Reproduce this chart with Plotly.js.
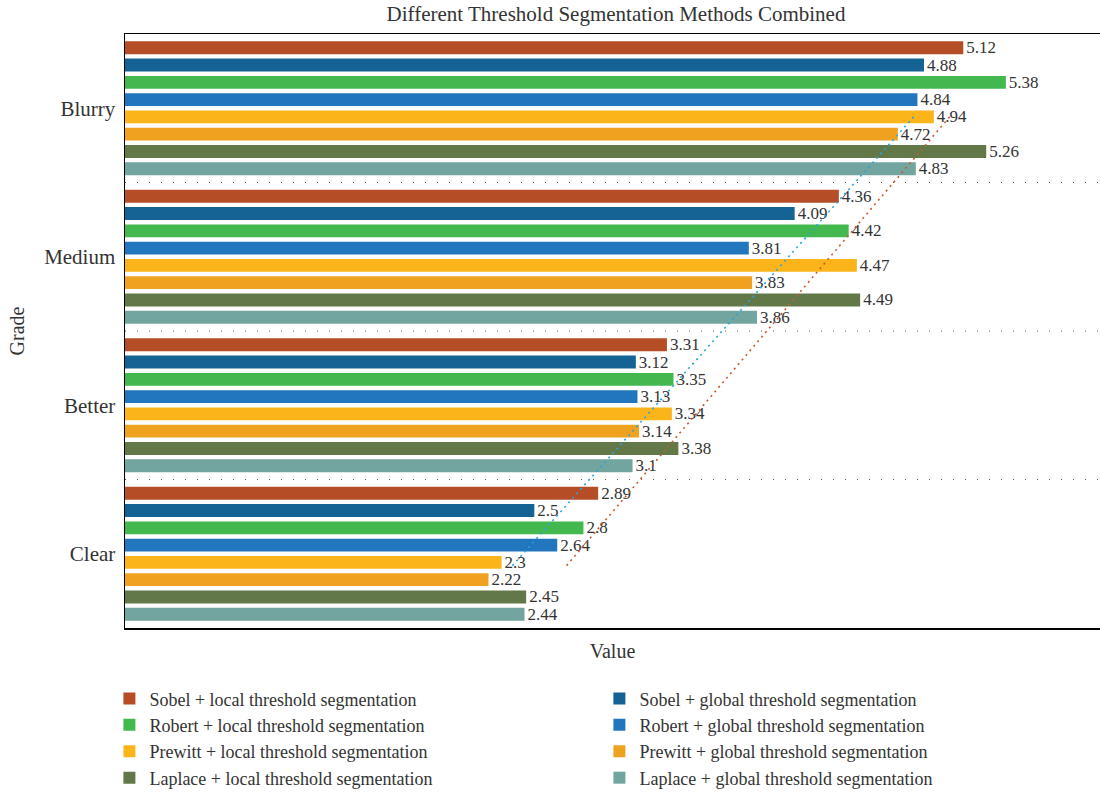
<!DOCTYPE html>
<html>
<head>
<meta charset="utf-8">
<script src="https://cdn.plot.ly/plotly-3.0.1.min.js"></script>
<style>html,body{margin:0;padding:0;background:#fff;}#chart{width:1100px;height:792px;}</style>
</head>
<body>
<div id="chart"></div>
<script>
// Categories (top to bottom)
const grades = ['Blurry', 'Medium', 'Better', 'Clear'];

// Series names
const seriesNames = [
  'Sobel + local threshold segmentation',
  'Sobel + global threshold segmentation',
  'Robert + local threshold segmentation',
  'Robert + global threshold segmentation',
  'Prewitt + local threshold segmentation',
  'Prewitt + global threshold segmentation',
  'Laplace + local threshold segmentation',
  'Laplace + global threshold segmentation'
];

// Values per series, in order of grades: Blurry, Medium, Better, Clear
const sobelLocal    = [5.12, 4.36, 3.31, 2.89];
const sobelGlobal   = [4.88, 4.09, 3.12, 2.5];
const robertLocal   = [5.38, 4.42, 3.35, 2.8];
const robertGlobal  = [4.84, 3.81, 3.13, 2.64];
const prewittLocal  = [4.94, 4.47, 3.34, 2.3];
const prewittGlobal = [4.72, 3.83, 3.14, 2.22];
const laplaceLocal  = [5.26, 4.49, 3.38, 2.45];
const laplaceGlobal = [4.83, 3.86, 3.1, 2.44];

const seriesValues = [sobelLocal, sobelGlobal, robertLocal, robertGlobal,
                      prewittLocal, prewittGlobal, laplaceLocal, laplaceGlobal];

const colors = ['#B54E27', '#156394', '#42B84F', '#2276BD',
                '#FBB41A', '#EFA220', '#637849', '#72A59F'];

const FONT = 'Liberation Serif, Times New Roman, serif';
const TXT = '#333333';

const traces = seriesValues.map((vals, i) => ({
  type: 'bar',
  orientation: 'h',
  name: seriesNames[i],
  y: grades,
  x: vals,
  marker: {color: colors[i]},
  text: vals.map(v => String(v)),
  textposition: 'outside',
  constraintext: 'none',
  cliponaxis: false,
  textfont: {family: FONT, size: 17, color: TXT},
  hoverinfo: 'x+name'
}));

// Linear trendlines (Excel-style, x = 1..4 from Clear to Blurry)
function trend(vals) {
  const ys = vals.slice().reverse(); // Clear..Blurry
  const xs = [1, 2, 3, 4];
  const mx = 2.5;
  const my = ys.reduce((a, b) => a + b, 0) / 4;
  let num = 0, den = 0;
  for (let k = 0; k < 4; k++) { num += (xs[k] - mx) * (ys[k] - my); den += (xs[k] - mx) ** 2; }
  const slope = num / den;
  const icpt = my - slope * mx;
  const posStart = 3.08, posEnd = 0.05;
  return {
    y: [posStart, posEnd],
    x: [icpt + slope * (4 - posStart), icpt + slope * (4 - posEnd)]
  };
}
const tSobelLocal = trend(sobelLocal);
const tSobelGlobal = trend(sobelGlobal);
traces.push({
  type: 'scatter', mode: 'lines', x: tSobelGlobal.x, y: tSobelGlobal.y, yaxis: 'y2',
  line: {color: '#2AA3DD', width: 1.6, dash: '2px,4px'}, showlegend: false, hoverinfo: 'skip'
});
traces.push({
  type: 'scatter', mode: 'lines', x: tSobelLocal.x, y: tSobelLocal.y, yaxis: 'y2',
  line: {color: '#C9592E', width: 1.6, dash: '2px,4px'}, showlegend: false, hoverinfo: 'skip'
});

const sepShapes = [0.5, 1.5, 2.5].map(p => ({
  type: 'line', xref: 'paper', x0: 0, x1: 1, yref: 'y2', y0: p, y1: p,
  line: {color: '#555555', width: 1, dash: '1px,11px'}, layer: 'below'
}));

const layout = {
  width: 1100, height: 792,
  margin: {l: 125, r: 0, t: 34, b: 164, autoexpand: false},
  paper_bgcolor: '#ffffff', plot_bgcolor: '#ffffff',
  font: {family: FONT, color: TXT, size: 20},
  title: {text: 'Different Threshold Segmentation Methods Combined',
          font: {family: FONT, size: 21, color: TXT}, x: 0.56, xanchor: 'center', y: 0.983, yanchor: 'middle'},
  barmode: 'group', bargap: 0.07, bargroupgap: 0.25,
  showlegend: true,
  legend: {orientation: 'h', x: -0.016, xanchor: 'left', y: -0.088, yanchor: 'top',
           entrywidth: 445, entrywidthmode: 'pixels', traceorder: 'normal',
           font: {family: FONT, size: 18, color: TXT}},
  xaxis: {range: [0, 5.955], showgrid: false, zeroline: false, showticklabels: false, ticks: '',
          showline: true, linecolor: '#000000', linewidth: 1.5, mirror: true,
          title: {text: 'Value', font: {family: FONT, size: 20, color: TXT}, standoff: 15}},
  yaxis: {type: 'category', categoryorder: 'array', categoryarray: grades, autorange: 'reversed',
          showgrid: false, zeroline: false, ticks: '', ticklabelstandoff: 4,
          showline: true, linecolor: '#000000', linewidth: 1.5,
          tickfont: {family: FONT, size: 21, color: TXT},
          title: {text: 'Grade', font: {family: FONT, size: 20, color: TXT}, standoff: 14}},
  yaxis2: {overlaying: 'y', range: [3.5, -0.5], visible: false, showgrid: false, zeroline: false},
  shapes: sepShapes
};

Plotly.newPlot('chart', traces, layout, {displayModeBar: false, staticPlot: true});
</script>
</body>
</html>
